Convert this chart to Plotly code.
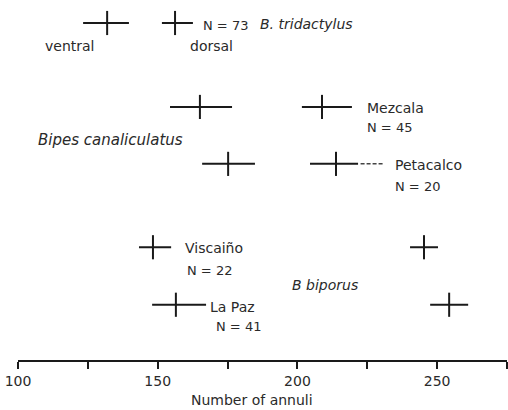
import plotly.graph_objects as go

# ---- data ----
populations = ["B. tridactylus", "Mezcala", "Petacalco", "Viscaiño", "La Paz"]
row_pos = [0.0, 1.46, 2.45, 3.9, 4.9]

ventral_mean = [131.9, 165.1, 175.2, 148.3, 156.5]
ventral_lo = [123.3, 154.4, 165.9, 143.3, 148.0]
ventral_hi = [139.7, 176.6, 184.8, 154.8, 167.3]

dorsal_mean = [156.2, 208.8, 213.8, 245.3, 254.3]
dorsal_lo = [151.5, 201.6, 204.5, 240.3, 247.5]
dorsal_hi = [162.6, 219.5, 221.7, 250.3, 261.1]

# dashed extension of the Petacalco dorsal range
petacalco_ext = [222.6, 230.6]

sample_n = ["N = 73", "N = 45", "N = 20", "N = 22", "N = 41"]

tick_vals = [100, 125, 150, 175, 200, 225, 250, 275]
tick_text = ["100", "", "150", "", "200", "", "250", ""]

FONT = "DejaVu Sans"
INK = "#1a1a1a"

fig = go.Figure()

def cross(means, lo, hi):
    fig.add_trace(go.Scatter(
        x=means, y=row_pos, mode="markers",
        marker=dict(size=1, color=INK, opacity=0),
        error_x=dict(type="data", symmetric=False,
                     array=[h - m for h, m in zip(hi, means)],
                     arrayminus=[m - l for m, l in zip(means, lo)],
                     color=INK, thickness=2, width=0),
        error_y=dict(type="constant", value=0.21, color=INK, thickness=2, width=0),
        showlegend=False, hoverinfo="skip"))

cross(ventral_mean, ventral_lo, ventral_hi)
cross(dorsal_mean, dorsal_lo, dorsal_hi)

fig.add_trace(go.Scatter(x=petacalco_ext, y=[row_pos[2]] * 2, mode="lines",
                         line=dict(color="#444", width=1.5, dash="4px,2px"),
                         showlegend=False, hoverinfo="skip"))

ann = []
def label(text, x, y, italic=False, anchor="left", size=14):
    ann.append(dict(x=x, y=y, xref="x", yref="y", text=text, showarrow=False,
                    xanchor=anchor, yanchor="middle",
                    font=dict(family=FONT, size=size, color="#2a2a2a",
                              style="italic" if italic else "normal")))

label("ventral", 118.6, 0.40, anchor="center")
label("dorsal", 169.4, 0.40, anchor="center")
label(sample_n[0], 165.4, 0.05, size=13)
label(populations[0], 185.9, 0.02, italic=True)
label(populations[1], 224.2, 1.48)
label(sample_n[1], 224.2, 1.81, size=13)
label("Bipes canaliculatus", 106.4, 2.04, italic=True, size=15)
label(populations[2], 234.2, 2.47)
label(sample_n[2], 234.2, 2.84, size=13)
label(populations[3], 159.1, 3.91)
label(sample_n[3], 159.8, 4.30, size=13)
label(populations[4], 168.0, 4.94)
label(sample_n[4], 170.1, 5.27, size=13)
label("B biporus", 197.4, 4.56, italic=True)

ann.append(dict(x=183.75, y=-0.11, xref="x", yref="paper", text="Number of annuli",
                showarrow=False, xanchor="center", yanchor="middle",
                font=dict(family=FONT, size=14, color="#2a2a2a")))

fig.update_layout(
    width=508, height=410,
    margin=dict(l=18, r=1, t=0, b=50),
    paper_bgcolor="white", plot_bgcolor="white",
    annotations=ann,
    xaxis=dict(range=[100, 275], showgrid=False, zeroline=False,
               showline=True, linecolor=INK, linewidth=2,
               ticks="outside", ticklen=7, tickwidth=2, tickcolor=INK,
               tickvals=tick_vals, ticktext=tick_text,
               tickfont=dict(family=FONT, size=14, color="#2a2a2a")),
    yaxis=dict(range=[5.861, -0.4], visible=False),
)

fig.write_html("out.html")
